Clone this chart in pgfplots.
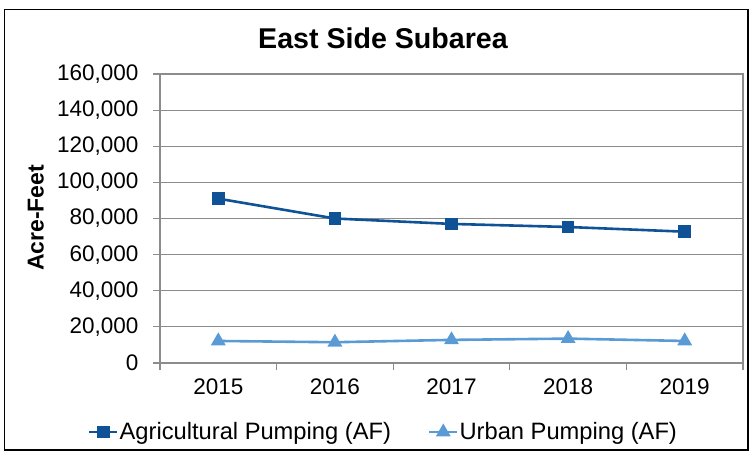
\documentclass[border=0pt]{standalone}
\usepackage{fontspec}
\setmainfont{Liberation Sans}
\usepackage{pgfplots}
\pgfplotsset{compat=1.18}
\definecolor{agri}{RGB}{16,82,150}
\definecolor{urban}{RGB}{91,155,213}
\definecolor{gridgray}{RGB}{140,140,140}

\begin{document}
\begin{tikzpicture}
\useasboundingbox (0,0) rectangle (749bp,-451bp);
\draw[line width=1.5bp] (4.5bp,-9.5bp) rectangle (748bp,-450bp);
\node[font=\bfseries\fontsize{28.6bp}{32bp}\selectfont] at (383bp,-38bp) {East Side Subarea};
\begin{axis}[
  at={(160bp,-363bp)}, anchor=south west,
  scale only axis, width=583bp, height=289bp,
  xmin=0.5, xmax=5.5, ymin=0, ymax=160000,
  xtick={0.5,1.5,...,5.5}, xticklabels={},
  extra x ticks={1,2,3,4,5},
  extra x tick labels={2015,2016,2017,2018,2019},
  extra x tick style={grid=none, major tick length=0pt},
  ytick={0,20000,...,160000},
  ymajorgrids,
  grid style={gridgray, line width=1.2bp},
  axis line style={gridgray, line width=1.2bp},
  tick style={gridgray, line width=1.2bp},
  tick align=outside, tick pos=left, major tick length=7bp,
  scaled y ticks=false,
  /pgf/number format/assume math mode=true,
  yticklabel style={/pgf/number format/fixed, /pgf/number format/1000 sep={,}, xshift=-11bp},
  xticklabel style={yshift=-12bp},
  ticklabel style={font=\fontsize{22.5bp}{26bp}\selectfont},
  ylabel={Acre-Feet},
  ylabel style={font=\bfseries\fontsize{23bp}{26bp}\selectfont, at={(axis description cs:-0.213,0.502)}, anchor=center},
  legend columns=2,
  legend style={at={(axis description cs:0.3825,-0.239)}, anchor=center, draw=none,
    font=\fontsize{23.7bp}{27bp}\selectfont, column sep=0bp,
    /tikz/every even column/.append style={column sep=36bp},
    nodes={inner xsep=1bp}},
  legend image code/.code={\draw[#1, mark repeat=2, mark phase=2] plot coordinates {(0bp,0bp) (14bp,0bp) (28bp,0bp)};},
]
\addplot[agri, line width=2.6bp, mark=square*, mark size=5bp, mark options={solid}]
  coordinates {(1,91000) (2,80000) (3,77000) (4,75300) (5,72700)};
\addlegendentry{Agricultural Pumping (AF)}
\addplot[urban, line width=2.6bp, mark=triangle*, mark size=6bp, mark options={solid}]
  coordinates {(1,12200) (2,11500) (3,12800) (4,13500) (5,12200)};
\addlegendentry{Urban Pumping (AF)}
\end{axis}
\end{tikzpicture}
\end{document}
